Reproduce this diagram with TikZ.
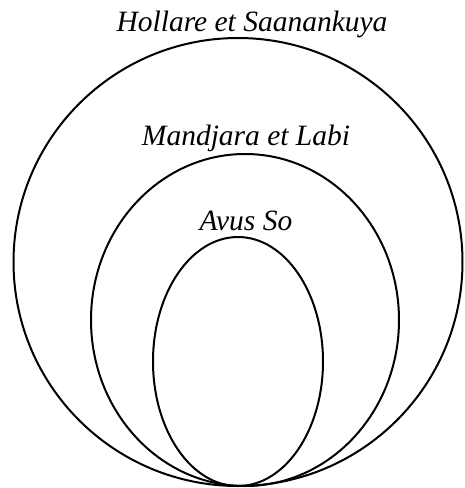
\documentclass[tikz,border=0pt]{standalone}
\usepackage{fontspec}
\setmainfont{Liberation Serif}
\usetikzlibrary{shapes.geometric,positioning}
\definecolor{ink}{RGB}{0,0,0}
\tikzset{
  ring/.style={ellipse,draw=ink,line width=2pt,inner sep=0pt},
  tag/.style={font=\fontsize{29.5}{34}\selectfont\itshape,text=ink,anchor=base,inner sep=0pt},
}
\begin{document}
\begin{tikzpicture}[x=1pt,y=-1pt]
  \useasboundingbox (0,0) rectangle (464,488);
  % nested groups, all touching at the bottom
  \node[ring,minimum width=449pt,minimum height=448pt] (outer) at (238,262) {};
  \node[ring,minimum width=308pt,minimum height=332pt] (middle) at (245,320) {};
  \node[ring,minimum width=170pt,minimum height=249pt] (inner) at (238,361.5) {};
  % labels
  \node[tag] (outerlab) at (252,31) {Hollare et Saanankuya};
  \node[tag] (middlelab) at (246,145) {Mandjara et Labi};
  \node[tag] (innerlab) at (246,230) {Avus So};
\end{tikzpicture}
\end{document}
